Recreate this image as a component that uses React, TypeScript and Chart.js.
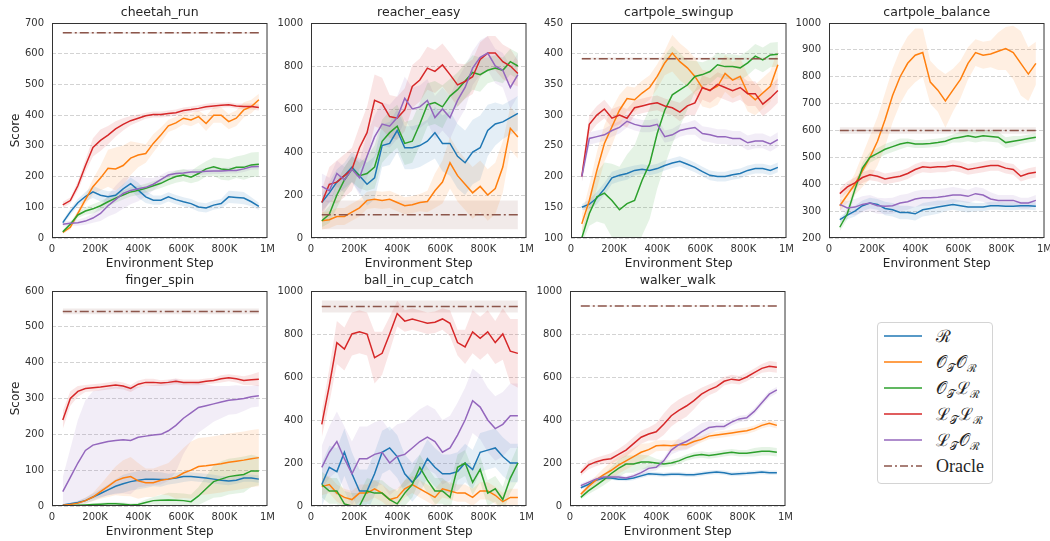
import React, { useEffect, useRef } from "react";
import { Chart, registerables } from "chart.js";

Chart.register(...registerables);

// ---------- data ----------
const STEPS_K = [50, 85, 120, 155, 190, 225, 260, 295, 330, 365, 400, 435, 470, 505, 540, 575, 610, 645, 680, 715, 750, 785, 820, 855, 890, 925, 960];
const X_TICK_LABELS = ["0", "200K", "400K", "600K", "800K", "1M"];
const ORACLE_STEPS_K = [50, 960];

// cheetah_run
const cheetahRun_R = [50, 85, 115, 135, 150, 139, 134, 139, 160, 177, 156, 134, 123, 123, 134, 125, 118, 112, 101, 98, 107, 112, 134, 132, 130, 118, 103];
const cheetahRun_R_band = [8, 10, 12, 15, 20, 20, 18, 15, 15, 20, 25, 20, 15, 15, 15, 15, 15, 15, 15, 15, 15, 15, 20, 20, 20, 15, 12];
const cheetahRun_OO = [18, 35, 80, 125, 167, 195, 227, 225, 236, 260, 270, 275, 308, 335, 365, 375, 390, 384, 395, 373, 400, 400, 379, 390, 417, 428, 450];
const cheetahRun_OO_band = [5, 8, 10, 15, 25, 40, 60, 70, 65, 55, 40, 30, 30, 25, 20, 20, 20, 20, 20, 25, 25, 25, 25, 25, 25, 22, 20];
const cheetahRun_OL = [20, 45, 75, 88, 95, 105, 118, 130, 140, 150, 155, 162, 170, 178, 190, 200, 205, 198, 210, 225, 232, 225, 222, 230, 230, 238, 240];
const cheetahRun_OL_band = [5, 8, 10, 12, 15, 15, 15, 15, 15, 15, 15, 15, 15, 15, 18, 20, 20, 20, 25, 25, 30, 35, 35, 35, 40, 40, 40];
const cheetahRun_LL = [108, 122, 170, 235, 295, 318, 335, 355, 370, 382, 390, 398, 402, 402, 405, 408, 415, 418, 422, 427, 430, 432, 434, 430, 428, 428, 425];
const cheetahRun_LL_band = [10, 10, 15, 20, 30, 35, 30, 25, 20, 15, 12, 10, 10, 10, 10, 10, 10, 10, 10, 10, 10, 8, 8, 8, 10, 10, 10];
const cheetahRun_LO = [45, 48, 50, 55, 65, 80, 105, 125, 145, 155, 160, 165, 175, 190, 205, 210, 212, 215, 215, 217, 218, 218, 220, 220, 225, 232, 233];
const cheetahRun_LO_band = [8, 8, 10, 12, 15, 25, 35, 45, 50, 45, 40, 30, 20, 15, 12, 10, 10, 10, 10, 10, 10, 10, 10, 10, 10, 10, 10];
const cheetahRun_oracle = 668;
const cheetahRun_oracle_band = 3;

// reacher_easy
const reacherEasy_R = [165, 210, 260, 290, 330, 290, 250, 280, 430, 440, 500, 420, 420, 430, 450, 490, 440, 440, 380, 350, 400, 420, 500, 530, 540, 560, 580];
const reacherEasy_R_band = [40, 50, 60, 60, 70, 80, 100, 100, 100, 100, 100, 100, 100, 100, 100, 120, 130, 150, 150, 150, 150, 150, 120, 100, 80, 80, 80];
const reacherEasy_OO = [80, 85, 100, 100, 120, 140, 175, 180, 175, 180, 165, 150, 155, 165, 170, 220, 260, 350, 290, 250, 210, 240, 200, 230, 330, 510, 470];
const reacherEasy_OO_band = [40, 40, 40, 40, 40, 40, 40, 40, 40, 40, 40, 40, 40, 40, 50, 80, 100, 120, 120, 120, 120, 120, 120, 120, 120, 100, 100];
const reacherEasy_OL = [80, 110, 200, 270, 320, 290, 300, 330, 450, 490, 520, 440, 450, 530, 620, 630, 610, 660, 690, 730, 770, 760, 780, 790, 780, 820, 800];
const reacherEasy_OL_band = [30, 40, 60, 60, 60, 60, 80, 100, 100, 100, 100, 100, 100, 100, 100, 100, 100, 80, 80, 80, 80, 80, 60, 60, 60, 60, 60];
const reacherEasy_LL = [165, 250, 260, 290, 320, 420, 490, 640, 625, 565, 557, 596, 705, 735, 790, 775, 805, 760, 712, 728, 750, 830, 860, 860, 820, 800, 765];
const reacherEasy_LL_band = [60, 80, 100, 100, 100, 100, 120, 120, 120, 100, 100, 100, 100, 100, 100, 100, 100, 100, 100, 80, 80, 80, 80, 80, 80, 80, 60];
const reacherEasy_LO = [240, 220, 300, 270, 320, 280, 380, 470, 530, 520, 560, 650, 600, 610, 640, 560, 600, 560, 640, 700, 790, 840, 860, 800, 780, 700, 760];
const reacherEasy_LO_band = [60, 60, 60, 60, 60, 80, 100, 100, 100, 100, 100, 100, 100, 100, 100, 100, 100, 100, 100, 100, 80, 80, 80, 80, 80, 100, 100];
const reacherEasy_oracle = 108;
const reacherEasy_oracle_band = 67;

// cartpole_swingup
const swingup_R = [150, 155, 165, 180, 198, 202, 205, 210, 212, 210, 213, 218, 222, 225, 220, 215, 208, 202, 200, 200, 203, 205, 210, 213, 213, 210, 215];
const swingup_R_band = [5, 8, 10, 10, 10, 10, 10, 8, 8, 8, 8, 8, 8, 8, 8, 8, 8, 8, 8, 8, 8, 8, 8, 8, 8, 8, 8];
const swingup_OO = [123, 161, 210, 254, 281, 308, 327, 325, 336, 345, 363, 385, 401, 387, 377, 363, 344, 341, 347, 368, 357, 363, 336, 325, 336, 347, 382];
const swingup_OO_band = [15, 25, 30, 30, 30, 25, 20, 20, 20, 20, 20, 20, 30, 30, 30, 30, 30, 30, 30, 30, 30, 30, 30, 25, 25, 25, 25];
const swingup_OL = [100, 140, 167, 173, 161, 146, 156, 161, 194, 221, 270, 308, 333, 341, 349, 363, 366, 371, 382, 379, 379, 377, 385, 396, 390, 398, 399];
const swingup_OL_band = [10, 20, 40, 50, 60, 70, 80, 90, 90, 90, 90, 90, 80, 60, 40, 25, 20, 20, 20, 20, 20, 20, 20, 20, 20, 20, 20];
const swingup_LL = [200, 285, 300, 310, 295, 300, 295, 312, 315, 318, 320, 315, 312, 305, 315, 320, 345, 340, 350, 345, 340, 345, 335, 335, 318, 328, 340];
const swingup_LL_band = [10, 15, 15, 15, 15, 15, 15, 12, 12, 12, 12, 12, 12, 15, 15, 20, 20, 20, 20, 20, 20, 20, 20, 20, 20, 20, 20];
const swingup_LO = [200, 262, 265, 268, 275, 280, 290, 285, 282, 282, 285, 265, 268, 275, 278, 280, 270, 268, 265, 265, 262, 262, 255, 258, 258, 253, 260];
const swingup_LO_band = [10, 10, 10, 10, 10, 10, 10, 10, 10, 10, 10, 10, 10, 10, 10, 12, 12, 12, 12, 12, 12, 12, 12, 12, 12, 12, 12];
const swingup_oracle = 392;
const swingup_oracle_band = 2;

// cartpole_balance
const balance_R = [268, 285, 300, 320, 330, 325, 310, 305, 295, 295, 290, 305, 310, 315, 320, 325, 320, 315, 315, 315, 320, 320, 318, 318, 320, 320, 318];
const balance_R_band = [10, 15, 20, 20, 20, 20, 25, 25, 25, 25, 25, 25, 25, 25, 20, 20, 20, 20, 15, 15, 15, 15, 15, 15, 15, 15, 15];
const balance_OO = [320, 360, 400, 450, 500, 560, 640, 730, 800, 850, 880, 890, 780, 750, 710, 750, 790, 850, 890, 880, 885, 895, 905, 890, 850, 810, 850];
const balance_OO_band = [20, 30, 40, 60, 80, 90, 100, 100, 100, 100, 100, 90, 80, 80, 100, 80, 70, 60, 50, 50, 50, 70, 80, 100, 120, 100, 80];
const balance_OL = [240, 290, 380, 460, 500, 515, 530, 540, 550, 555, 550, 550, 552, 555, 560, 570, 575, 580, 575, 580, 578, 575, 555, 560, 565, 570, 575];
const balance_OL_band = [15, 20, 20, 20, 20, 20, 20, 20, 20, 15, 15, 15, 15, 15, 15, 15, 20, 20, 20, 20, 20, 20, 20, 20, 15, 15, 15];
const balance_LL = [365, 390, 405, 425, 435, 430, 420, 425, 430, 440, 455, 465, 462, 465, 465, 470, 465, 455, 460, 465, 470, 470, 460, 455, 430, 440, 445];
const balance_LL_band = [20, 20, 20, 20, 20, 20, 20, 20, 20, 20, 20, 20, 20, 20, 20, 20, 20, 20, 20, 20, 20, 20, 20, 20, 20, 20, 20];
const balance_LO = [325, 312, 315, 325, 330, 320, 318, 320, 330, 335, 345, 350, 350, 352, 355, 360, 360, 355, 365, 360, 345, 340, 340, 340, 330, 330, 340];
const balance_LO_band = [20, 25, 30, 30, 30, 30, 30, 30, 30, 30, 30, 30, 30, 30, 30, 30, 25, 25, 25, 25, 25, 20, 20, 20, 20, 20, 20];
const balance_oracle = 600;
const balance_oracle_band = 12;

// finger_spin
const finger_R = [3, 6, 10, 15, 25, 35, 45, 55, 62, 68, 72, 75, 75, 74, 75, 78, 82, 82, 80, 78, 75, 72, 70, 72, 78, 78, 75];
const finger_R_band = [2, 3, 5, 8, 10, 12, 15, 20, 25, 25, 25, 25, 20, 20, 15, 15, 15, 12, 12, 12, 12, 12, 12, 10, 10, 10, 10];
const finger_OO = [2, 4, 8, 15, 25, 40, 55, 70, 78, 82, 70, 65, 65, 72, 75, 80, 92, 100, 110, 112, 115, 118, 122, 125, 128, 132, 135];
const finger_OO_band = [2, 3, 5, 8, 12, 20, 30, 40, 50, 55, 50, 40, 40, 40, 45, 60, 70, 80, 80, 80, 80, 80, 80, 80, 80, 80, 80];
const finger_OL = [0, 1, 2, 3, 4, 5, 6, 6, 5, 3, 4, 10, 15, 16, 17, 16, 15, 12, 28, 48, 68, 75, 82, 85, 88, 98, 98];
const finger_OL_band = [1, 2, 2, 3, 3, 4, 5, 5, 5, 5, 5, 8, 10, 15, 20, 20, 20, 20, 25, 35, 45, 50, 50, 50, 50, 45, 40];
const finger_LL = [240, 300, 320, 328, 330, 332, 335, 338, 335, 328, 340, 345, 345, 343, 345, 348, 345, 345, 345, 348, 350, 355, 358, 355, 350, 352, 354];
const finger_LL_band = [25, 20, 15, 10, 10, 10, 10, 10, 10, 10, 10, 10, 10, 8, 8, 8, 8, 8, 8, 8, 8, 10, 10, 10, 12, 15, 20];
const finger_LO = [40, 80, 120, 155, 170, 175, 180, 183, 185, 183, 192, 195, 198, 200, 210, 225, 245, 260, 275, 280, 285, 290, 295, 297, 300, 305, 308];
const finger_LO_band = [40, 80, 120, 140, 150, 150, 150, 150, 150, 150, 140, 140, 140, 140, 140, 130, 100, 80, 70, 60, 50, 45, 40, 40, 35, 30, 30];
const finger_oracle = 543;
const finger_oracle_band = 8;

// ball_in_cup_catch
const ballCup_R = [100, 180, 160, 250, 150, 70, 70, 150, 250, 270, 230, 150, 110, 150, 220, 180, 150, 150, 160, 200, 170, 250, 260, 270, 230, 200, 200];
const ballCup_R_band = [100, 100, 110, 110, 100, 100, 100, 100, 100, 100, 100, 90, 90, 90, 90, 90, 90, 90, 90, 90, 90, 90, 90, 90, 90, 90, 90];
const ballCup_OO = [90, 100, 60, 40, 30, 60, 60, 80, 60, 30, 40, 80, 100, 80, 60, 40, 80, 70, 60, 60, 40, 70, 70, 50, 20, 40, 40];
const ballCup_OO_band = [40, 40, 40, 40, 40, 40, 40, 40, 40, 40, 40, 40, 40, 40, 40, 40, 40, 40, 40, 40, 40, 40, 40, 40, 40, 40, 40];
const ballCup_OL = [100, 70, 70, 10, 0, 0, 70, 60, 60, 30, 10, 60, 100, 180, 120, 70, 70, 40, 180, 200, 110, 170, 60, 80, 30, 130, 200];
const ballCup_OL_band = [60, 60, 60, 60, 60, 60, 60, 60, 60, 60, 60, 60, 60, 60, 60, 60, 60, 60, 60, 60, 60, 60, 60, 60, 60, 70, 80];
const ballCup_LL = [380, 560, 760, 730, 800, 810, 800, 690, 710, 800, 895, 860, 870, 860, 850, 855, 870, 850, 760, 740, 810, 780, 810, 760, 800, 720, 710];
const ballCup_LL_band = [60, 80, 100, 100, 100, 100, 100, 120, 100, 80, 60, 50, 50, 50, 50, 50, 50, 60, 60, 80, 100, 100, 100, 100, 120, 150, 160];
const ballCup_LO = [180, 250, 300, 220, 150, 220, 220, 240, 250, 200, 230, 240, 270, 300, 320, 300, 250, 270, 330, 400, 490, 460, 400, 360, 380, 420, 420];
const ballCup_LO_band = [100, 120, 140, 150, 150, 150, 150, 150, 150, 150, 150, 150, 150, 150, 150, 150, 150, 150, 150, 150, 150, 150, 150, 150, 150, 150, 150];
const ballCup_oracle = 928;
const ballCup_oracle_band = 28;

// walker_walk
const walker_R = [85, 100, 120, 130, 130, 125, 125, 130, 140, 150, 148, 145, 148, 148, 145, 145, 150, 155, 158, 155, 148, 150, 152, 155, 158, 155, 155];
const walker_R_band = [8, 8, 8, 8, 8, 8, 10, 10, 10, 10, 10, 10, 10, 10, 10, 10, 10, 10, 10, 10, 10, 10, 10, 10, 10, 10, 10];
const walker_OO = [55, 90, 120, 145, 165, 190, 210, 230, 250, 262, 280, 282, 280, 285, 285, 300, 310, 325, 330, 335, 340, 345, 350, 360, 375, 385, 375];
const walker_OO_band = [10, 15, 20, 30, 40, 40, 40, 40, 40, 30, 25, 25, 25, 25, 20, 20, 15, 15, 15, 15, 15, 15, 15, 15, 15, 15, 15];
const walker_OL = [40, 70, 95, 120, 150, 175, 195, 195, 205, 205, 200, 195, 200, 210, 225, 235, 240, 235, 240, 245, 250, 245, 245, 250, 255, 255, 250];
const walker_OL_band = [10, 15, 20, 25, 30, 40, 40, 40, 35, 30, 20, 15, 15, 15, 15, 15, 15, 15, 15, 15, 15, 15, 15, 20, 20, 20, 20];
const walker_LL = [155, 190, 205, 215, 220, 240, 260, 290, 320, 335, 345, 380, 420, 445, 465, 490, 520, 540, 555, 580, 590, 585, 600, 620, 640, 650, 645];
const walker_LL_band = [15, 20, 20, 20, 25, 25, 30, 30, 30, 30, 40, 50, 50, 50, 50, 40, 30, 25, 25, 20, 20, 20, 20, 20, 20, 25, 25];
const walker_LO = [95, 110, 125, 135, 135, 135, 130, 140, 155, 175, 180, 210, 260, 285, 300, 320, 345, 365, 370, 370, 390, 405, 410, 440, 480, 520, 540];
const walker_LO_band = [10, 10, 10, 10, 10, 10, 10, 10, 15, 15, 15, 15, 20, 30, 40, 40, 40, 30, 20, 15, 15, 15, 15, 15, 15, 15, 15];
const walker_oracle = 930;
const walker_oracle_band = 2;

// ---------- styling ----------
const C_R = "#1f77b4";
const C_OO = "#ff7f0e";
const C_OL = "#2ca02c";
const C_LL = "#d62728";
const C_LO = "#9467bd";
const C_ORACLE = "#8c564b";
const TEXT = "#262626";

type Series = { mean: number[]; band: number[]; color: string; xs?: number[]; dash?: boolean };
type PanelDef = {
  title: string; ymin: number; ymax: number; ystep: number;
  left: number; row: 0 | 1; score: boolean; series: Series[]; oracle: number; oracleBand: number;
};

const PANELS: PanelDef[] = [
  { title: "cheetah_run", ymin: 0, ymax: 700, ystep: 100, left: 0, row: 0, score: true,
    series: [
      { mean: cheetahRun_R, band: cheetahRun_R_band, color: C_R },
      { mean: cheetahRun_OO, band: cheetahRun_OO_band, color: C_OO },
      { mean: cheetahRun_OL, band: cheetahRun_OL_band, color: C_OL },
      { mean: cheetahRun_LL, band: cheetahRun_LL_band, color: C_LL },
      { mean: cheetahRun_LO, band: cheetahRun_LO_band, color: C_LO },
    ], oracle: cheetahRun_oracle, oracleBand: cheetahRun_oracle_band },
  { title: "reacher_easy", ymin: 0, ymax: 1000, ystep: 200, left: 259, row: 0, score: false,
    series: [
      { mean: reacherEasy_R, band: reacherEasy_R_band, color: C_R },
      { mean: reacherEasy_OO, band: reacherEasy_OO_band, color: C_OO },
      { mean: reacherEasy_OL, band: reacherEasy_OL_band, color: C_OL },
      { mean: reacherEasy_LL, band: reacherEasy_LL_band, color: C_LL },
      { mean: reacherEasy_LO, band: reacherEasy_LO_band, color: C_LO },
    ], oracle: reacherEasy_oracle, oracleBand: reacherEasy_oracle_band },
  { title: "cartpole_swingup", ymin: 100, ymax: 450, ystep: 50, left: 519, row: 0, score: false,
    series: [
      { mean: swingup_R, band: swingup_R_band, color: C_R },
      { mean: swingup_OO, band: swingup_OO_band, color: C_OO },
      { mean: swingup_OL, band: swingup_OL_band, color: C_OL },
      { mean: swingup_LL, band: swingup_LL_band, color: C_LL },
      { mean: swingup_LO, band: swingup_LO_band, color: C_LO },
    ], oracle: swingup_oracle, oracleBand: swingup_oracle_band },
  { title: "cartpole_balance", ymin: 200, ymax: 1000, ystep: 100, left: 777, row: 0, score: false,
    series: [
      { mean: balance_R, band: balance_R_band, color: C_R },
      { mean: balance_OO, band: balance_OO_band, color: C_OO },
      { mean: balance_OL, band: balance_OL_band, color: C_OL },
      { mean: balance_LL, band: balance_LL_band, color: C_LL },
      { mean: balance_LO, band: balance_LO_band, color: C_LO },
    ], oracle: balance_oracle, oracleBand: balance_oracle_band },
  { title: "finger_spin", ymin: 0, ymax: 600, ystep: 100, left: 0, row: 1, score: true,
    series: [
      { mean: finger_R, band: finger_R_band, color: C_R },
      { mean: finger_OO, band: finger_OO_band, color: C_OO },
      { mean: finger_OL, band: finger_OL_band, color: C_OL },
      { mean: finger_LL, band: finger_LL_band, color: C_LL },
      { mean: finger_LO, band: finger_LO_band, color: C_LO },
    ], oracle: finger_oracle, oracleBand: finger_oracle_band },
  { title: "ball_in_cup_catch", ymin: 0, ymax: 1000, ystep: 200, left: 259, row: 1, score: false,
    series: [
      { mean: ballCup_R, band: ballCup_R_band, color: C_R },
      { mean: ballCup_OO, band: ballCup_OO_band, color: C_OO },
      { mean: ballCup_OL, band: ballCup_OL_band, color: C_OL },
      { mean: ballCup_LL, band: ballCup_LL_band, color: C_LL },
      { mean: ballCup_LO, band: ballCup_LO_band, color: C_LO },
    ], oracle: ballCup_oracle, oracleBand: ballCup_oracle_band },
  { title: "walker_walk", ymin: 0, ymax: 1000, ystep: 200, left: 518, row: 1, score: false,
    series: [
      { mean: walker_R, band: walker_R_band, color: C_R },
      { mean: walker_OO, band: walker_OO_band, color: C_OO },
      { mean: walker_OL, band: walker_OL_band, color: C_OL },
      { mean: walker_LL, band: walker_LL_band, color: C_LL },
      { mean: walker_LO, band: walker_LO_band, color: C_LO },
    ], oracle: walker_oracle, oracleBand: walker_oracle_band },
];

function rgba(hex: string, a: number) {
  const n = parseInt(hex.slice(1), 16);
  return `rgba(${(n >> 16) & 255},${(n >> 8) & 255},${n & 255},${a})`;
}

function buildDatasets(p: PanelDef) {
  const all: Series[] = [
    ...p.series,
    { mean: [p.oracle, p.oracle], band: [p.oracleBand, p.oracleBand], color: C_ORACLE, xs: ORACLE_STEPS_K, dash: true },
  ];
  const ds: any[] = [];
  all.forEach((s) => {
    const xs = s.xs ?? STEPS_K;
    ds.push({
      data: xs.map((x, i) => ({ x, y: s.mean[i] - s.band[i] })),
      borderColor: "rgba(0,0,0,0)", borderWidth: 0, pointRadius: 0, fill: false, order: 50,
    });
    ds.push({
      data: xs.map((x, i) => ({ x, y: s.mean[i] + s.band[i] })),
      borderColor: "rgba(0,0,0,0)", borderWidth: 0, pointRadius: 0, fill: "-1",
      backgroundColor: rgba(s.color, 0.12), order: 50,
    });
  });
  all.forEach((s, k) => {
    const xs = s.xs ?? STEPS_K;
    ds.push({
      data: xs.map((x, i) => ({ x, y: s.mean[i] })),
      borderColor: s.color, borderWidth: 1.5, pointRadius: 0, fill: false,
      borderDash: s.dash ? [9, 3, 2, 3] : [], order: 10 - k, tension: 0,
    });
  });
  return ds;
}

const decorPlugin = {
  id: "decor",
  afterDraw(chart: any, _args: any, opts: any) {
    const { ctx, chartArea: a } = chart;
    ctx.save();
    ctx.strokeStyle = "#333";
    ctx.lineWidth = 1;
    ctx.setLineDash([]);
    ctx.strokeRect(a.left + 0.5, a.top + 0.5, a.right - a.left - 1, a.bottom - a.top - 1);
    ctx.fillStyle = TEXT;
    ctx.textAlign = "center";
    ctx.textBaseline = "middle";
    ctx.font = '12.5px "DejaVu Sans"';
    ctx.fillText(opts.title, (a.left + a.right) / 2, a.top - 10);
    ctx.font = '12px "DejaVu Sans"';
    ctx.fillText("Environment Step", (a.left + a.right) / 2, a.bottom + 26);
    if (opts.score) {
      ctx.translate(16, (a.top + a.bottom) / 2);
      ctx.rotate(-Math.PI / 2);
      ctx.fillText("Score", 0, 0);
    }
    ctx.restore();
  },
};

function Panel({ p }: { p: PanelDef }) {
  const ref = useRef<HTMLCanvasElement>(null);
  const h = p.row === 0 ? 275 : 273;
  const xAxisH = p.row === 0 ? 37 : 35;
  useEffect(() => {
    const chart = new Chart(ref.current as HTMLCanvasElement, {
      type: "line",
      data: { datasets: buildDatasets(p) },
      plugins: [decorPlugin as any],
      options: {
        animation: false,
        responsive: false,
        devicePixelRatio: 1,
        layout: { padding: { left: 0, right: 12, top: 23, bottom: 0 } },
        plugins: {
          legend: { display: false },
          tooltip: { enabled: false },
          decor: { title: p.title, score: p.score },
        } as any,
        scales: {
          x: {
            type: "linear", min: 0, max: 1000,
            grid: { display: false, drawTicks: false },
            border: { display: false },
            ticks: {
              stepSize: 200, padding: 5, color: "#333", font: { family: "DejaVu Sans", size: 10 },
              maxRotation: 0, autoSkip: false,
              callback: (v: any) => X_TICK_LABELS[Math.round(Number(v) / 200)] ?? "",
            },
            afterFit: (s: any) => { s.height = xAxisH; },
          },
          y: {
            type: "linear", min: p.ymin, max: p.ymax,
            grid: { color: "#c8c8c8", lineWidth: 0.8, drawTicks: false },
            border: { display: false, dash: [4, 2] },
            ticks: {
              stepSize: p.ystep, padding: 8, color: "#333", font: { family: "DejaVu Sans", size: 10 },
              callback: (v: any) => String(v),
            },
            afterFit: (s: any) => { s.width = 52; },
          },
        },
      } as any,
    });
    return () => chart.destroy();
  }, [p]);
  return (
    <canvas
      ref={ref}
      width={280}
      height={h}
      style={{ position: "absolute", left: p.left, top: p.row === 0 ? 0 : 268, width: 280, height: h }}
    />
  );
}

const LEGEND_COLORS = [C_R, C_OO, C_OL, C_LL, C_LO, C_ORACLE];
const LEGEND_LABELS: string[][] = [
  ["ℛ"],
  ["𝒪", "𝒯", "𝒪", "ℛ"],
  ["𝒪", "𝒯", "ℒ", "ℛ"],
  ["ℒ", "𝒯", "ℒ", "ℛ"],
  ["ℒ", "𝒯", "𝒪", "ℛ"],
  ["Oracle"],
];

function Legend() {
  return (
    <div>
      <div style={{
        position: "absolute", left: 877, top: 322, width: 116, height: 162, boxSizing: "border-box",
        border: "1px solid #d4d4d4", borderRadius: 4, background: "#fff",
      }} />
      {LEGEND_LABELS.map((parts, i) => {
        const cy = 336 + 26 * i;
        const isOracle = i === 5;
        return (
          <div key={i} style={{ position: "absolute", left: 884, top: cy - 12, height: 24, width: 105 }}>
            <svg width={38} height={24} style={{ position: "absolute", left: 0, top: 0 }}>
              <line x1={0} y1={12} x2={38} y2={12} stroke={LEGEND_COLORS[i]} strokeWidth={1.5}
                strokeDasharray={isOracle ? "8 3 2 3" : undefined} />
            </svg>
            <div style={{
              position: "absolute", left: 52, top: 0, height: 24, lineHeight: "24px", whiteSpace: "nowrap",
              fontFamily: '"DejaVu Serif", "Liberation Serif", serif', fontSize: 17, color: TEXT,
            }}>
              {isOracle ? (
                <span style={{ fontFamily: '"Liberation Serif", serif', fontSize: 18 }}>Oracle</span>
              ) : (
                parts.map((t, j) =>
                  j % 2 === 1 ? (
                    <span key={j} style={{ fontSize: 11, position: "relative", top: 4, marginRight: 1 }}>{t}</span>
                  ) : (
                    <span key={j}>{t}</span>
                  )
                )
              )}
            </div>
          </div>
        );
      })}
    </div>
  );
}

export default function App() {
  return (
    <div style={{ position: "absolute", left: 0, top: 0, width: 1050, height: 541, overflow: "hidden", background: "#fff" }}>
      {PANELS.map((p, i) => <Panel key={i} p={p} />)}
      <Legend />
    </div>
  );
}
